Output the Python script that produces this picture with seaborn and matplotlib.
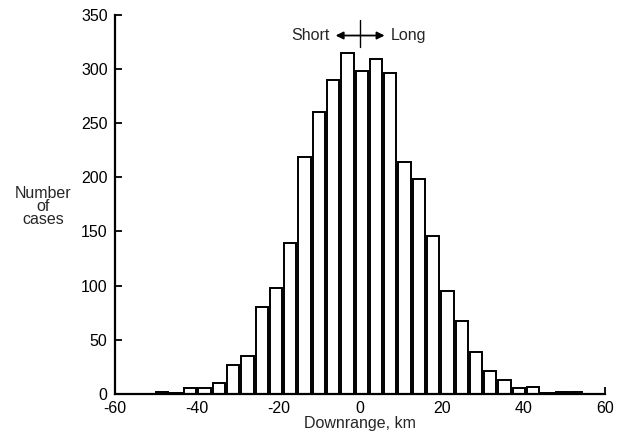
import numpy as np
import pandas as pd
import matplotlib
matplotlib.use("Agg")
import matplotlib.pyplot as plt
import seaborn as sns

# Miss distance histogram: bin centres (km) and number of cases per bin
bin_width_km = 3.5
bin_centers_km = [
    -55.6, -52.1, -48.6, -45.1, -41.6, -38.1, -34.6, -31.1,
    -27.6, -24.1, -20.6, -17.1, -13.6, -10.1, -6.6, -3.1,
    0.4, 3.9, 7.4, 10.9, 14.4, 17.9, 21.4, 24.9,
    28.4, 31.9, 35.4, 38.9, 42.4, 45.9, 49.4, 52.9,
]
case_counts = [
    0, 0, 2, 1, 5, 5, 10, 27,
    35, 80, 98, 139, 219, 260, 290, 315,
    298, 309, 296, 214, 198, 146, 95, 67,
    39, 21, 13, 5, 6, 1, 2, 2,
]
x_ticks = [-60, -40, -20, 0, 20, 40, 60]
y_ticks = [0, 50, 100, 150, 200, 250, 300, 350]

df = pd.DataFrame({"downrange": bin_centers_km, "cases": case_counts})
bin_range = (bin_centers_km[0] - bin_width_km / 2,
             bin_centers_km[-1] + bin_width_km / 2)

sns.set_style("ticks")
plt.rcParams["font.family"] = ["Liberation Sans", "DejaVu Sans"]
plt.rcParams["axes.unicode_minus"] = False

FS = 11.5

fig = plt.figure(figsize=(6.23, 4.40), dpi=100)
ax = fig.add_axes([0.185, 0.105, 0.786, 0.861])

sns.histplot(data=df, x="downrange", weights="cases",
             binwidth=bin_width_km, binrange=bin_range,
             shrink=0.86, color="white", edgecolor="black",
             linewidth=1.4, alpha=1.0, ax=ax)

ax.set_xlim(-60, 60)
ax.set_ylim(0, 350)
ax.set_xticks(x_ticks)
ax.set_yticks(y_ticks)
ax.tick_params(direction="in", length=5, width=1.3, labelsize=FS,
               colors="black")
ax.tick_params(axis="x", pad=5.5)
ax.tick_params(axis="y", pad=5.5)
for side in ("top", "right"):
    ax.spines[side].set_visible(False)
for side in ("left", "bottom"):
    ax.spines[side].set_linewidth(1.6)
    ax.spines[side].set_color("black")

ax.set_xlabel("Downrange, km", fontsize=FS, labelpad=0)
ax.set_ylabel("Number\nof\ncases", fontsize=FS, rotation=0,
              ha="center", va="center", linespacing=0.85)
ax.yaxis.set_label_coords(-0.148, 0.495)

# Short / Long direction marker above the peak
for tip in (-6.0, 6.0):
    ax.annotate("", xy=(tip, 331), xytext=(0, 331),
                arrowprops=dict(arrowstyle="-|>", color="black", lw=1.3,
                                mutation_scale=11, shrinkA=0, shrinkB=0))
ax.plot([0, 0], [320, 345], color="black", lw=1.0, clip_on=False)
ax.text(-7.5, 331, "Short", ha="right", va="center", fontsize=FS)
ax.text(7.5, 331, "Long", ha="left", va="center", fontsize=FS)

fig.savefig("out.png", dpi=100)
